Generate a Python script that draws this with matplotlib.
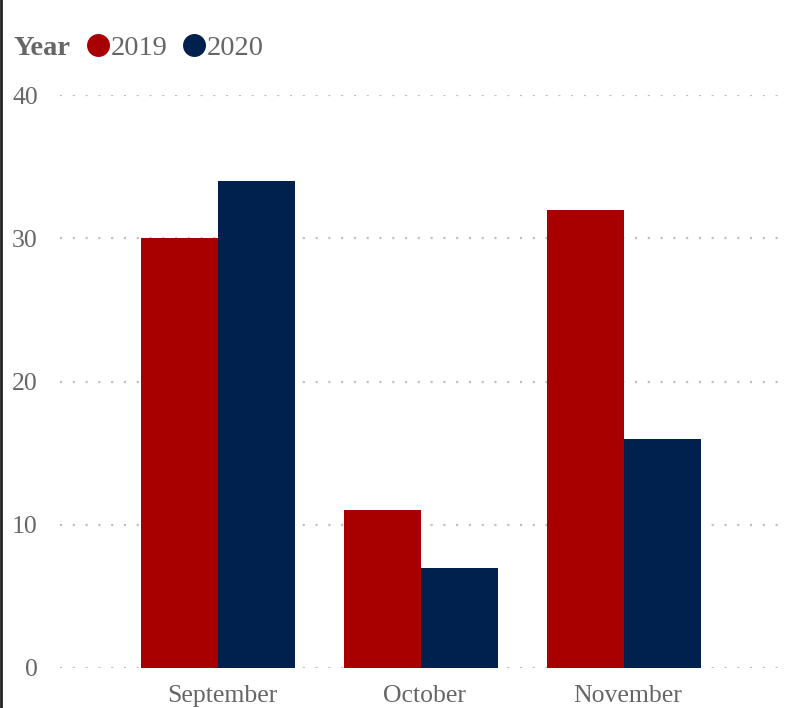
import numpy as np
import matplotlib.pyplot as plt
import matplotlib.transforms as mtransforms
from matplotlib.lines import Line2D

months = ["September", "October", "November"]
years = ["2019", "2020"]
sales_2019 = [30, 11, 32]
sales_2020 = [34, 7, 16]
yticks = [0, 10, 20, 30, 40]

red = "#A80000"
navy = "#00204E"
grey = "#666666"
W, H = 789, 708

plt.rcParams["font.family"] = ["Liberation Serif", "DejaVu Serif"]
plt.rcParams["lines.scale_dashes"] = False

fig = plt.figure(figsize=(W / 100, H / 100), dpi=100)
ax = fig.add_axes([60 / W, 40 / H, 726 / W, 573 / H])

x = np.arange(len(months))
w = 0.38
ax.bar(x - w / 2, sales_2019, width=w, color=red, zorder=2)
ax.bar(x + w / 2, sales_2020, width=w, color=navy, zorder=2)

ax.set_xlim(-0.778, 2.798)
ax.set_ylim(0, 40)
ax.set_yticks(yticks)
ax.set_xticks(x)
ax.set_xticklabels(months)
ax.tick_params(axis="both", length=0, labelsize=18.5, labelcolor=grey)
ax.tick_params(axis="y", pad=16)
ax.tick_params(axis="x", pad=12)
# category labels sit a few pixels right of the bar-pair centre
shift = mtransforms.ScaledTranslation(4 / 100, 0, fig.dpi_scale_trans)
for lab in ax.get_xticklabels():
    lab.set_transform(lab.get_transform() + shift)
for s in ax.spines.values():
    s.set_visible(False)
ax.grid(axis="y", color="#BDBDBD", linewidth=1.6, dashes=(1.5, 7.7), zorder=1)
ax.set_axisbelow(True)

# legend: bold header, then a coloured dot and label per year
ly = 1 - 45 / H
base = 1 - 55 / H
fig.text(13 / W, base, "Year", fontsize=20.5, fontweight="bold",
         color=grey, va="baseline", ha="left")
for yr, c, cx in zip(years, (red, navy), (98, 194)):
    fig.add_artist(Line2D([cx / W], [ly], marker="o", markersize=15.5,
                          markerfacecolor=c, markeredgecolor=c, linestyle="none"))
    fig.text((cx + 13) / W, base, yr, fontsize=20.5, color=grey,
             va="baseline", ha="left")

# dark edge on the left side
fig.add_artist(Line2D([1 / W, 1 / W], [0, 1], color="#222222", linewidth=2))

fig.savefig("out.png", dpi=100)
